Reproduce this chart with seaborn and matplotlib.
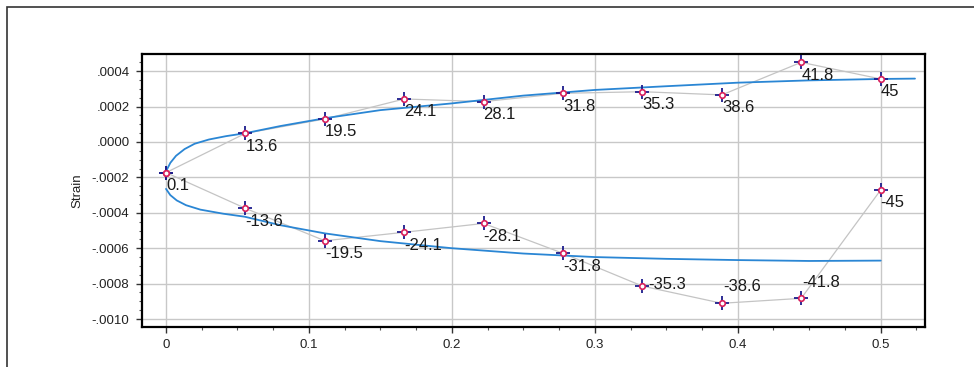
import numpy as np
import pandas as pd
import matplotlib
matplotlib.use("Agg")
import matplotlib.pyplot as plt
import matplotlib.ticker as mticker
from matplotlib.patches import Rectangle
import seaborn as sns

# measured points (position along section, strain)
positions = [0.0, 0.0556, 0.1111, 0.1667, 0.2222, 0.2778, 0.3333, 0.3889, 0.4444, 0.5]
upper_strain = [-0.000173, 0.000049, 0.000130, 0.000243, 0.000228, 0.000275,
                0.000284, 0.000266, 0.000450, 0.000356]
lower_strain = [-0.000173, -0.000375, -0.000558, -0.000510, -0.000460, -0.000629,
                -0.000814, -0.000911, -0.000883, -0.000271]
upper_labels = ["0.1", "13.6", "19.5", "24.1", "28.1", "31.8", "35.3", "38.6", "41.8", "45"]
lower_labels = [None, "-13.6", "-19.5", "-24.1", "-28.1", "-31.8", "-35.3", "-38.6", "-41.8", "-45"]

# fitted curves (blue)
fit_upper_x = [0.0005, 0.003, 0.007, 0.013, 0.02, 0.03, 0.042, 0.055, 0.08, 0.111, 0.15,
               0.2, 0.25, 0.3, 0.35, 0.4, 0.45, 0.5, 0.524]
fit_upper_y = [-0.000158, -0.000118, -0.000078, -0.000040, -0.000010, 0.000014, 0.000033,
               0.000049, 0.000090, 0.000134, 0.000180, 0.000218, 0.000262, 0.000294,
               0.000315, 0.000335, 0.000348, 0.000356, 0.000358]
fit_lower_x = [0.0, 0.003, 0.0075, 0.014, 0.024, 0.04, 0.055, 0.08, 0.111, 0.15, 0.2,
               0.25, 0.3, 0.35, 0.4, 0.45, 0.5]
fit_lower_y = [-0.000265, -0.000300, -0.000330, -0.000357, -0.000382, -0.000405,
               -0.000422, -0.000470, -0.000516, -0.000560, -0.000600, -0.000630,
               -0.000650, -0.000660, -0.000667, -0.000672, -0.000670]

# label offsets in pixels (default below-right of the marker)
label_offsets = {"-35.3": (6, 2), "-38.6": (1, 17), "-41.8": (1, 16)}

sns.set_theme(style="white")
plt.rcParams['font.family'] = ['Liberation Sans', 'DejaVu Sans']

fig = plt.figure(figsize=(9.74, 3.67), dpi=100)
ax = fig.add_axes([142 / 974, 1 - 327 / 367, (925 - 142) / 974, (327 - 54) / 367])

# outer frame of the picture
fig.patches.append(Rectangle((7 / 974, -0.1), 1.2, 1.1 - 7 / 367,
                             transform=fig.transFigure, fill=False,
                             edgecolor='#333333', linewidth=1.2))

pts = pd.DataFrame({
    'pos': positions + positions,
    'strain': upper_strain + lower_strain,
    'side': ['upper'] * len(positions) + ['lower'] * len(positions),
})
fits = pd.DataFrame({
    'pos': fit_upper_x + fit_lower_x,
    'strain': fit_upper_y + fit_lower_y,
    'side': ['upper'] * len(fit_upper_x) + ['lower'] * len(fit_lower_x),
})

sns.lineplot(data=pts, x='pos', y='strain', units='side', estimator=None, sort=False,
             color='#c4c4c4', linewidth=0.9, ax=ax, zorder=2)
sns.lineplot(data=fits, x='pos', y='strain', units='side', estimator=None, sort=False,
             color='#2a86d4', linewidth=1.3, ax=ax, zorder=3)

sns.scatterplot(data=pts, x='pos', y='strain', marker='+', s=110, color='#1c1c8c',
                linewidth=1.3, ax=ax, zorder=4)
sns.scatterplot(data=pts, x='pos', y='strain', marker='o', s=16, facecolor='white',
                edgecolor='#d81e5b', linewidth=1.2, ax=ax, zorder=5)

for x, y, lab in zip(positions + positions, upper_strain + lower_strain,
                     upper_labels + lower_labels):
    if lab is None:
        continue
    dx, dy = label_offsets.get(lab, (0, -13))
    ax.annotate(lab, (x, y), xytext=(dx, dy), textcoords='offset pixels',
                ha='left', va='center', fontsize=12, color='#1a1a1a', zorder=6)

ax.set_xlim(-0.0168, 0.531)
ax.set_ylim(-0.001045, 0.000497)

ax.xaxis.set_major_locator(mticker.MultipleLocator(0.1))
ax.xaxis.set_minor_locator(mticker.MultipleLocator(0.025))
ax.yaxis.set_major_locator(mticker.MultipleLocator(0.0002))
ax.yaxis.set_minor_locator(mticker.MultipleLocator(0.00005))
ax.xaxis.set_major_formatter(mticker.FuncFormatter(lambda v, p: f"{v:g}" if abs(v) > 1e-9 else "0"))


def strain_fmt(v, p):
    if abs(v) < 1e-9:
        return ".0000"
    return f"{v:.4f}".replace("0.", ".", 1)


ax.yaxis.set_major_formatter(mticker.FuncFormatter(strain_fmt))

ax.grid(True, which='major', color='#c8c8c8', linewidth=1.0)
ax.set_axisbelow(True)
for sp in ax.spines.values():
    sp.set_color('black')
    sp.set_linewidth(1.6)

ax.tick_params(axis='both', which='major', direction='out', length=4, width=1,
               color='#333333', labelsize=9.5, labelcolor='#222222', pad=5,
               bottom=True, left=True)
ax.tick_params(axis='both', which='minor', direction='out', length=2.5, width=0.8,
               color='#555555', bottom=True, left=True)

ax.set_xlabel('')
ax.set_ylabel('Strain', fontsize=9.5, color='#222222', labelpad=6)

fig.savefig('out.png', dpi=100)
